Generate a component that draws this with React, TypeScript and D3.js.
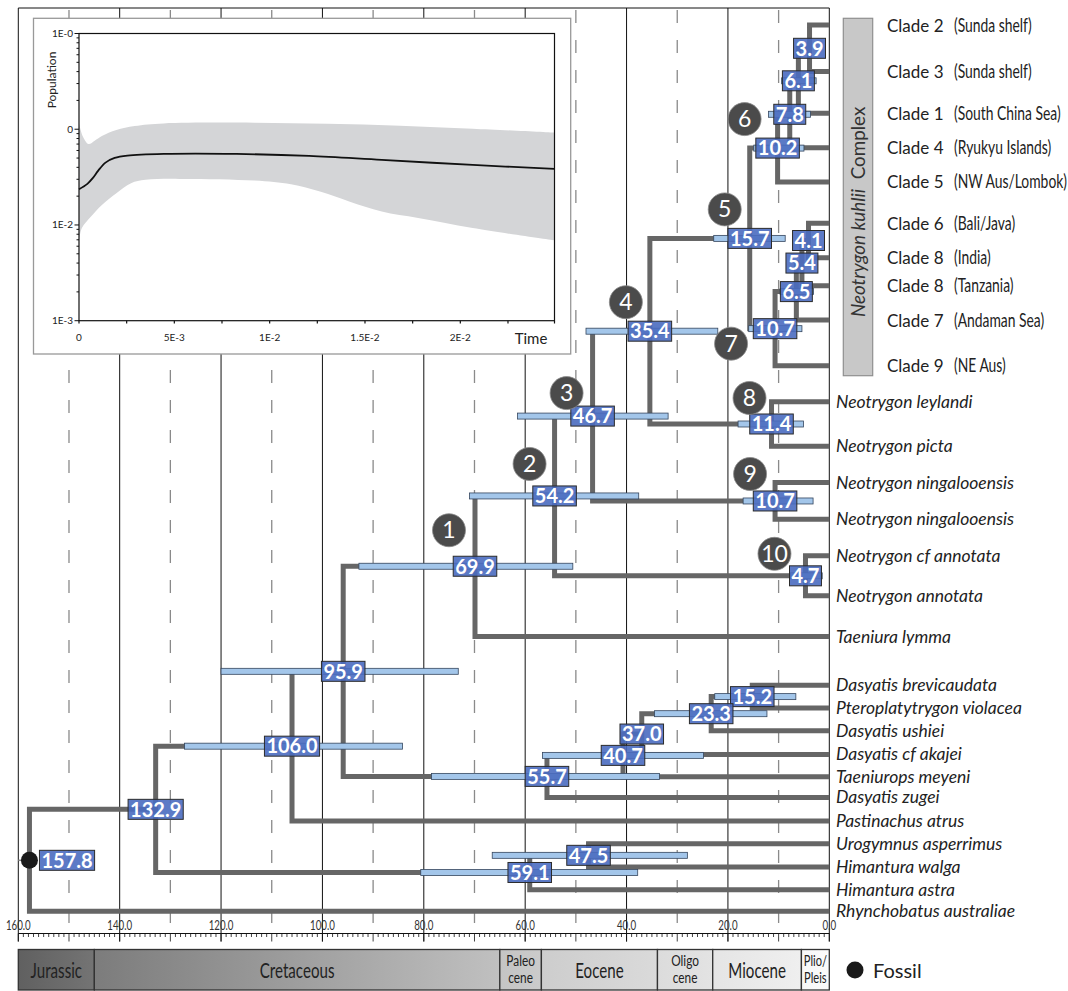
import React from "react";
import * as d3 from "d3";

// ---------- DATA ----------
const leafIds = ["c2","c3","c1","c4","c5","c6","c8i","c8t","c7","c9","ley","pic","nin1","nin2","cfann","ann","tly","dbr","pvi","dus","dcf","tme","dzu","pat","uas","hwa","has","rau"];
const leafLabels = ["Clade 2","Clade 3","Clade 1","Clade 4","Clade 5","Clade 6","Clade 8","Clade 8","Clade 7","Clade 9",
  "Neotrygon leylandi","Neotrygon picta","Neotrygon ningalooensis","Neotrygon ningalooensis","Neotrygon cf annotata","Neotrygon annotata","Taeniura lymma",
  "Dasyatis brevicaudata","Pteroplatytrygon violacea","Dasyatis ushiei","Dasyatis cf akajei","Taeniurops meyeni","Dasyatis zugei","Pastinachus atrus",
  "Urogymnus asperrimus","Himantura walga","Himantura astra","Rhynchobatus australiae"];
const leafRegions = ["(Sunda shelf)","(Sunda shelf)","(South China Sea)","(Ryukyu Islands)","(NW Aus/Lombok)","(Bali/Java)","(India)","(Tanzania)","(Andaman Sea)","(NE Aus)"];
const leafRows = [0,1.42,2.69,3.74,4.78,6.04,7.09,7.94,8.99,10.38,11.48,12.83,13.94,15.06,16.17,17.39,18.63,20.11,20.81,21.5,22.22,22.9,23.53,24.25,24.94,25.65,26.34,27.0];

type NodeDef = { id: string; age: number; kids: string[]; ci: [number, number] | null; badge?: number; fossil?: boolean };
const treeNodes: NodeDef[] = [
  { id: "n39", age: 3.9, kids: ["c2", "c3"], ci: null },
  { id: "n61", age: 6.1, kids: ["n39", "c1"], ci: [9.4, 2.6] },
  { id: "n78", age: 7.8, kids: ["n61", "c4"], ci: [12.0, 3.7] },
  { id: "n102", age: 10.2, kids: ["n78", "c5"], ci: [14.9, 5.0], badge: 6 },
  { id: "n41", age: 4.1, kids: ["c6", "c8i"], ci: null },
  { id: "n54", age: 5.4, kids: ["n41", "c8t"], ci: null },
  { id: "n65", age: 6.5, kids: ["n54", "c7"], ci: [9.7, 3.1] },
  { id: "n107a", age: 10.7, kids: ["n65", "c9"], ci: [15.9, 5.4], badge: 7 },
  { id: "n157", age: 15.7, kids: ["n102", "n107a"], ci: [22.8, 8.7], badge: 5 },
  { id: "n114", age: 11.4, kids: ["ley", "pic"], ci: [18.0, 5.1], badge: 8 },
  { id: "n354", age: 35.4, kids: ["n157", "n114"], ci: [48.0, 22.0], badge: 4 },
  { id: "n107b", age: 10.7, kids: ["nin1", "nin2"], ci: [17.0, 3.2], badge: 9 },
  { id: "n467", age: 46.7, kids: ["n354", "n107b"], ci: [61.5, 31.8], badge: 3 },
  { id: "n47", age: 4.7, kids: ["cfann", "ann"], ci: [7.7, 1.4], badge: 10 },
  { id: "n542", age: 54.2, kids: ["n467", "n47"], ci: [71.0, 37.6], badge: 2 },
  { id: "n699", age: 69.9, kids: ["n542", "tly"], ci: [92.8, 50.6], badge: 1 },
  { id: "n152", age: 15.2, kids: ["dbr", "pvi"], ci: [22.6, 6.6] },
  { id: "n233", age: 23.3, kids: ["n152", "dus"], ci: [34.5, 12.3] },
  { id: "n370", age: 37.0, kids: ["n233", "dcf"], ci: null },
  { id: "n407", age: 40.7, kids: ["n370", "tme"], ci: [56.6, 24.8] },
  { id: "n557", age: 55.7, kids: ["n407", "dzu"], ci: [78.5, 33.5] },
  { id: "n959", age: 95.9, kids: ["n699", "n557"], ci: [120.0, 73.2] },
  { id: "n1060", age: 106.0, kids: ["n959", "pat"], ci: [127.2, 84.2] },
  { id: "n475", age: 47.5, kids: ["uas", "hwa"], ci: [66.5, 28.0] },
  { id: "n591", age: 59.1, kids: ["n475", "has"], ci: [80.6, 37.8] },
  { id: "n1329", age: 132.9, kids: ["n1060", "n591"], ci: null },
  { id: "root", age: 157.8, kids: ["n1329", "rau"], ci: null, fossil: true },
];

const axisTickLabels = [160, 140, 120, 100, 80, 60, 40, 20, 0];
const epochNames = [["Jurassic"], ["Cretaceous"], ["Paleo", "cene"], ["Eocene"], ["Oligo", "cene"], ["Miocene"], ["Plio/", "Pleis"]];
const epochStart = [160, 145, 65, 56.8, 33.9, 23, 5.5];
const epochEnd = [145, 65, 56.8, 33.9, 23, 5.5, 0];

// inset (skyline) data
const medT = [0, 0.00044, 0.00072, 0.00101, 0.00139, 0.00187, 0.00254, 0.00444, 0.00826, 0.01207, 0.01588, 0.02065, 0.02494];
const medV = [0.0236, 0.0269, 0.0308, 0.037, 0.0448, 0.0501, 0.053, 0.0552, 0.0552, 0.0526, 0.0478, 0.0424, 0.0385];
const upT = [0, 0.00021, 0.0005, 0.00082, 0.0012, 0.00196, 0.00292, 0.00444, 0.00921, 0.01302, 0.01684, 0.02065, 0.02494];
const upV = [0.115, 0.0836, 0.0701, 0.076, 0.085, 0.0982, 0.108, 0.115, 0.117, 0.114, 0.109, 0.1014, 0.092];
const loT = [0, 0.00015, 0.00063, 0.0012, 0.00196, 0.00273, 0.00349, 0.0054, 0.00921, 0.01112, 0.01264, 0.01417, 0.01588, 0.01779, 0.02065, 0.02494];
const loV = [0.00673, 0.00927, 0.01225, 0.0162, 0.0215, 0.0273, 0.0296, 0.0303, 0.0291, 0.0266, 0.0223, 0.0176, 0.0138, 0.0118, 0.00927, 0.00689];
const insetXTicks = [0, 0.005, 0.01, 0.015, 0.02];
const insetXTickLabels = ["0", "5E-3", "1E-2", "1.5E-2", "2E-2"];
const insetYTicks = [1, 0.1, 0.01, 0.001];
const insetYTickLabels = ["1E-0", "0", "1E-2", "1E-3"];

// ---------- STYLE ----------
const BRANCH = "#666666";
const BOXFILL = "#4a6cc0";
const CIFILL = "#a3c6ea";
const SANS = "Lato, 'Open Sans', sans-serif";
const epochGrad = [["#606060", "#747474"], ["#7c7c7c", "#c0c0c0"], ["#c4c4c4", "#cbcbcb"], ["#cdcdcd", "#dadada"], ["#dcdcdc", "#e3e3e3"], ["#e5e5e5", "#efefef"], ["#f7f7f7", "#fbfbfb"]];
const badgeOffsets: Record<number, [number, number]> = {
  1: [-26, -36], 2: [-25, -32], 3: [-26, -23], 4: [-24, -29], 5: [-25, -29],
  6: [-33, -29], 7: [-44, 15], 8: [-22, -26], 9: [-25, -27], 10: [-31, -22],
};

let _ctx: CanvasRenderingContext2D | null = null;
function measure(s: string, font: string) {
  if (!_ctx) _ctx = document.createElement("canvas").getContext("2d");
  if (!_ctx) return s.length * 10;
  _ctx.font = font;
  return _ctx.measureText(s).width;
}

// condensed text (horizontally compressed Lato, like a condensed face)
function Cond(props: { x: number; y: number; size: number; anchor?: string; sx?: number; lines: string[]; lh?: number; fill?: string }) {
  const { x, y, size, anchor = "start", sx = 0.8, lines, lh = 18, fill = "#222" } = props;
  return (
    <text transform={`translate(${x},${y}) scale(${sx},1)`} fontSize={size} textAnchor={anchor} fill={fill}>
      {lines.map((l, i) => (
        <tspan key={i} x={0} y={i * lh}>{l}</tspan>
      ))}
    </text>
  );
}

export default function App() {
  const x = d3.scaleLinear().domain([160, 0]).range([18.3, 829.3]);
  const y = d3.scaleLinear().domain([0, 27]).range([25, 911.3]);

  const pos: Record<string, { x: number; y: number }> = {};
  leafIds.forEach((id, i) => (pos[id] = { x: x(0), y: y(leafRows[i]) }));
  const byId: Record<string, NodeDef> = {};
  treeNodes.forEach((n) => (byId[n.id] = n));
  const place = (id: string): { x: number; y: number } => {
    if (pos[id]) return pos[id];
    const n = byId[id];
    const a = place(n.kids[0]);
    const b = place(n.kids[n.kids.length - 1]);
    pos[id] = { x: x(n.age), y: (a.y + b.y) / 2 };
    return pos[id];
  };
  treeNodes.forEach((n) => place(n.id));

  const top = 8, gridBottom = 933.5;
  const gridAges = d3.range(0, 161, 10);

  const ix = d3.scaleLinear().domain([0, 0.02494]).range([79, 554.5]);
  const iy = d3.scaleLog().domain([0.001, 1]).range([320.7, 33.5]);
  const lineGen = d3.line<[number, number]>().x((d) => ix(d[0])).y((d) => iy(d[1])).curve(d3.curveCatmullRom);
  const upPts = upT.map((t, i) => [t, upV[i]] as [number, number]);
  const loPts = loT.map((t, i) => [t, loV[i]] as [number, number]).reverse();
  const bandPath = (lineGen(upPts) || "") + "L" + (lineGen(loPts) || "").slice(1) + "Z";
  const medPath = lineGen(medT.map((t, i) => [t, medV[i]] as [number, number])) || "";
  const yMinor: number[] = [];
  [0.001, 0.01, 0.1].forEach((d) => { for (let k = 1; k <= 9; k++) yMinor.push(d * k); });
  yMinor.push(1);
  const xMinor = d3.range(0, 0.0249, 0.0025);

  const boxFont = `700 20px Lato`;

  return (
    <svg width={1068} height={991} style={{ position: "absolute", left: 0, top: 0, background: "#fff" }} fontFamily={SANS}>
      <defs>
        {epochGrad.map((g, i) => (
          <linearGradient key={i} id={`eg${i}`} x1="0" x2="1" y1="0" y2="0">
            <stop offset="0" stopColor={g[0]} />
            <stop offset="1" stopColor={g[1]} />
          </linearGradient>
        ))}
      </defs>

      {/* grid */}
      {gridAges.map((a) =>
        a % 20 === 0 ? (
          <line key={a} x1={x(a)} x2={x(a)} y1={top} y2={gridBottom + 8} stroke="#111" strokeWidth={1} />
        ) : (
          <line key={a} x1={x(a)} x2={x(a)} y1={top + 2} y2={gridBottom} stroke="#8a8a8a" strokeWidth={1.3} strokeDasharray="13 17" />
        )
      )}
      <line x1={x(160)} x2={x(0)} y1={top} y2={top} stroke="#111" strokeWidth={1} />

      {/* ruler */}
      <line x1={x(160)} x2={x(0)} y1={gridBottom} y2={gridBottom} stroke="#111" strokeWidth={1} />
      {d3.range(0, 161, 1).map((a) => (
        <line key={a} x1={x(a)} x2={x(a)} y1={gridBottom} y2={gridBottom + (a % 10 === 0 ? 8 : 3.5)} stroke="#111" strokeWidth={0.8} />
      ))}
      {axisTickLabels.map((a) => (
        <Cond key={a} x={x(a)} y={929.5} size={13.5} sx={0.72} anchor="middle" lines={[a.toFixed(1)]} fill="#333" />
      ))}

      {/* inset */}
      <rect x={33.5} y={18.3} width={537.2} height={335.7} fill="#fff" stroke="#999" strokeWidth={1.3} />
      <path d={bandPath} fill="#d4d5d7" />
      <path d={medPath} fill="none" stroke="#111" strokeWidth={1.8} />
      <rect x={79} y={33.5} width={475.5} height={287.2} fill="none" stroke="#111" strokeWidth={1.2} />
      {yMinor.map((v, i) => {
        const major = insetYTicks.includes(+v.toPrecision(3));
        return <line key={i} x1={79} x2={major ? 74.5 : 76.5} y1={iy(v)} y2={iy(v)} stroke="#111" strokeWidth={1} />;
      })}
      {insetYTicks.map((v, i) => (
        <text key={i} x={73} y={iy(v) + 3.5} textAnchor="end" fontSize={10} fill="#222">{insetYTickLabels[i]}</text>
      ))}
      {xMinor.map((t, i) => (
        <line key={i} x1={ix(t)} x2={ix(t)} y1={320.7} y2={323.5} stroke="#111" strokeWidth={1.2} />
      ))}
      <line x1={ix(0.02494)} x2={ix(0.02494)} y1={320.7} y2={323.5} stroke="#111" strokeWidth={1.2} />
      {insetXTicks.map((t, i) => (
        <text key={i} x={ix(t)} y={341} textAnchor="middle" fontSize={10} fill="#222">{insetXTickLabels[i]}</text>
      ))}
      <text x={531} y={344} textAnchor="middle" fontSize={15} fill="#222">Time</text>
      <text transform="translate(56,80) rotate(-90)" textAnchor="middle" fontSize={12} fill="#222">Population</text>

      {/* branches */}
      {treeNodes.map((n) => {
        const p = pos[n.id];
        const a = pos[n.kids[0]];
        const b = pos[n.kids[1]];
        return (
          <path key={n.id} d={`M${a.x},${a.y}H${p.x}V${b.y}H${b.x}`} fill="none" stroke={BRANCH} strokeWidth={5} strokeLinejoin="miter" />
        );
      })}
      <line x1={x(160)} x2={pos["root"].x} y1={pos["root"].y} y2={pos["root"].y} stroke="#888" strokeWidth={1.5} />

      {/* CI bars */}
      {treeNodes.filter((n) => n.ci).map((n) => {
        const ci = n.ci as [number, number];
        const p = pos[n.id];
        return <rect key={n.id} x={x(ci[0])} y={p.y - 3} width={x(ci[1]) - x(ci[0])} height={6} fill={CIFILL} stroke="#35465e" strokeWidth={0.8} />;
      })}

      <circle cx={pos["root"].x} cy={pos["root"].y} r={8.5} fill="#1a1a1a" />

      {/* age boxes */}
      {treeNodes.map((n) => {
        const p = pos[n.id];
        const s = n.age.toFixed(1);
        const w = measure(s, boxFont) + 4;
        const cx = n.fossil ? p.x + 10 + w / 2 : p.x;
        return (
          <g key={n.id}>
            <rect x={cx - w / 2} y={p.y - 10} width={w} height={20} fill={BOXFILL} fillOpacity={0.9} stroke="#2b2b2b" strokeWidth={1} />
            <text x={cx} y={p.y + 7.3} textAnchor="middle" fontSize={20} fontWeight={700} fill="#fff">{s}</text>
          </g>
        );
      })}

      {/* badges */}
      {treeNodes.filter((n) => n.badge).map((n) => {
        const p = pos[n.id];
        const o = badgeOffsets[n.badge as number];
        return (
          <g key={n.id}>
            <circle cx={p.x + o[0]} cy={p.y + o[1]} r={16.5} fill="#4b4b4b" stroke="#8a8a8a" strokeWidth={0.8} />
            <text x={p.x + o[0]} y={p.y + o[1] + 8} textAnchor="middle" fontSize={23} fill="#fff">{n.badge}</text>
          </g>
        );
      })}

      {/* leaf labels */}
      {leafIds.map((id, i) => {
        const py = pos[id].y;
        if (i < leafRegions.length) {
          return (
            <g key={id}>
              <text x={887} y={py + 6.5} fontSize={17} fill="#222">{leafLabels[i]}</text>
              <Cond x={954} y={py + 6.5} size={19} sx={0.73} lines={[leafRegions[i]]} />
            </g>
          );
        }
        return (
          <text key={id} x={836} y={py + 6} fontSize={17.5} fontStyle="italic" fill="#222">{leafLabels[i]}</text>
        );
      })}

      {/* complex bracket */}
      <rect x={843.3} y={18.3} width={29.4} height={357.4} fill="#c8c8c8" stroke="#8f8f8f" strokeWidth={1.2} />
      <text transform="translate(865,317) rotate(-90)" textAnchor="start" fontSize={18.8} fill="#333" style={{ whiteSpace: "pre" }}>
        <tspan fontStyle="italic">Neotrygon kuhlii</tspan>
        <tspan>{"  Complex"}</tspan>
      </text>

      {/* timeline */}
      {epochNames.map((nm, i) => {
        const x0 = x(epochStart[i]), x1 = x(epochEnd[i]);
        const cx = (x0 + x1) / 2;
        return (
          <g key={i}>
            <rect x={x0} y={949.5} width={x1 - x0} height={40.5} fill={`url(#eg${i})`} stroke="#333" strokeWidth={1.3} />
            {nm.length === 1 ? (
              <Cond x={cx} y={977.5} size={21} sx={0.72} anchor="middle" lines={nm} />
            ) : (
              <Cond x={cx} y={966} size={i === 6 ? 15 : 16} sx={0.74} anchor="middle" lines={nm} lh={17.5} />
            )}
          </g>
        );
      })}

      {/* legend */}
      <circle cx={855} cy={970} r={8.5} fill="#1a1a1a" />
      <text x={873} y={977.5} fontSize={20} fill="#222">Fossil</text>
    </svg>
  );
}
